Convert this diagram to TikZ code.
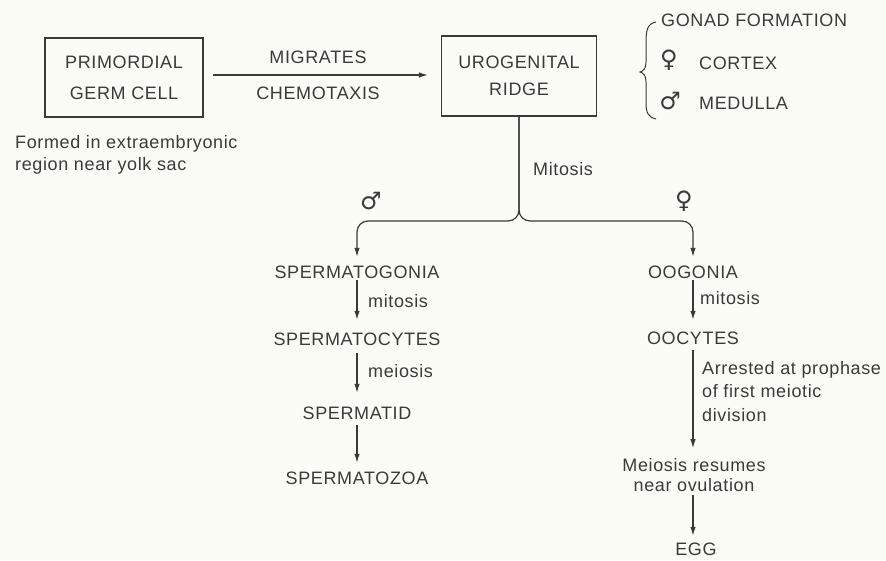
\documentclass[tikz,border=0pt]{standalone}
\usepackage{fontspec}
\setmainfont{Liberation Sans}[LetterSpace=3.5]
\newfontfamily\symfont{DejaVu Sans}
\usetikzlibrary{arrows.meta}
\definecolor{ink}{HTML}{3A3A3A}
\definecolor{paper}{HTML}{FCFCF6}
\begin{document}
\begin{tikzpicture}[x=1pt,y=-1pt,
  lbl/.style={font=\fontsize{18}{22}\selectfont, text=ink, inner sep=0pt},
  caps/.style={lbl, text height=13pt, text depth=0pt},
  sym/.style={font=\symfont\fontsize{24}{24}\selectfont, text=ink, inner sep=0pt},
  box/.style={draw=ink, line width=1.2pt, align=center, text=ink, inner sep=0pt},
  ln/.style={draw=ink, line width=1.2pt},
  arr/.style={ln, -{Latex[length=9pt,width=5.5pt]}}]
\fill[paper] (0,0) rectangle (886,560);
\useasboundingbox (0,0) rectangle (886,560);

% boxes
\node[box, minimum width=158pt, minimum height=79pt, font=\fontsize{18}{31}\selectfont] (pgc) at (124,77.5) {PRIMORDIAL\\GERM CELL};
\node[box, minimum width=155pt, minimum height=80pt, font=\fontsize{18}{27}\selectfont] (urg) at (519,76) {UROGENITAL\\RIDGE};

\draw[arr, shorten <=9pt, shorten >=13pt] ([yshift=2.5pt]pgc.east) -- ([yshift=2.5pt]pgc.east -| urg.west);
\node[caps] (mig) at (318,57) {MIGRATES};
\node[caps] (che) at (318,93) {CHEMOTAXIS};

\node[lbl, anchor=west, align=left] (formed) at (15,155) {Formed in extraembryonic\\region near yolk sac};

% gonad formation
\draw[ln, line width=1pt] (656,22) .. controls (647,24) and (646,30) .. (646,44) -- (646,62)
  .. controls (646,68) and (644,71) .. (640,72) .. controls (644,73) and (646,76) .. (646,82)
  -- (646,102) .. controls (646,113) and (648,117) .. (656,119);
\node[caps, anchor=west] (gonad) at (661,20) {GONAD FORMATION};
\node[sym] (fem1) at (669,60) {♀};
\node[caps, anchor=west] (cortex) at (699,63) {CORTEX};
\node[sym] (mal1) at (670,101) {♂};
\node[caps, anchor=west] (medulla) at (699,103) {MEDULLA};

\node[lbl, anchor=west] (mit) at (533,169) {Mitosis};
\node[sym] (mal2) at (371,201) {♂};
\node[sym] (fem2) at (684,201) {♀};

% male chain
\node[caps] (sg) at (357,272) {SPERMATOGONIA};
\node[caps] (sc) at (357,339) {SPERMATOCYTES};
\node[caps] (st) at (357,413) {SPERMATID};
\node[caps] (sz) at (357,478) {SPERMATOZOA};
\draw[arr, shorten <=1.5pt, shorten >=12.5pt] (sg) -- (sc);
\draw[arr, shorten <=7.5pt, shorten >=13.5pt] (sc) -- (st);
\draw[arr, shorten <=5.5pt, shorten >=8.5pt] (st) -- (sz);
\node[lbl, anchor=west] (mit2) at (368,301) {mitosis};
\node[lbl, anchor=west] (mei) at (368,371) {meiosis};

% female chain
\node[caps] (og) at (693,272) {OOGONIA};
\node[caps] (oc) at (693,338) {OOCYTES};
\node[lbl, align=center, font=\fontsize{18}{20}\selectfont] (mr) at (694,475) {Meiosis resumes\\near ovulation};
\node[caps] (egg) at (696,549) {EGG};
\draw[arr, shorten <=1.5pt, shorten >=11.5pt] (og) -- (oc);
\draw[arr, shorten <=5.5pt, shorten >=10pt] (oc) -- (oc |- mr.north);
\draw[arr, shorten <=3pt, shorten >=6.5pt] (oc |- mr.south) -- (oc |- egg.north);
\node[lbl, anchor=west] (mit3) at (700,298) {mitosis};
\node[lbl, anchor=west, align=left, font=\fontsize{18}{23.5}\selectfont] (arrest) at (702,391.5) {Arrested at prophase\\of first meiotic\\division};

% split
\draw[arr, rounded corners=11pt, shorten >=8.5pt] (urg.south) -- (urg.south |- 0,221) -| (sg.north);
\draw[arr, rounded corners=11pt, shorten >=8.5pt] (urg.south) -- (urg.south |- 0,221) -| (og.north);
\end{tikzpicture}
\end{document}
